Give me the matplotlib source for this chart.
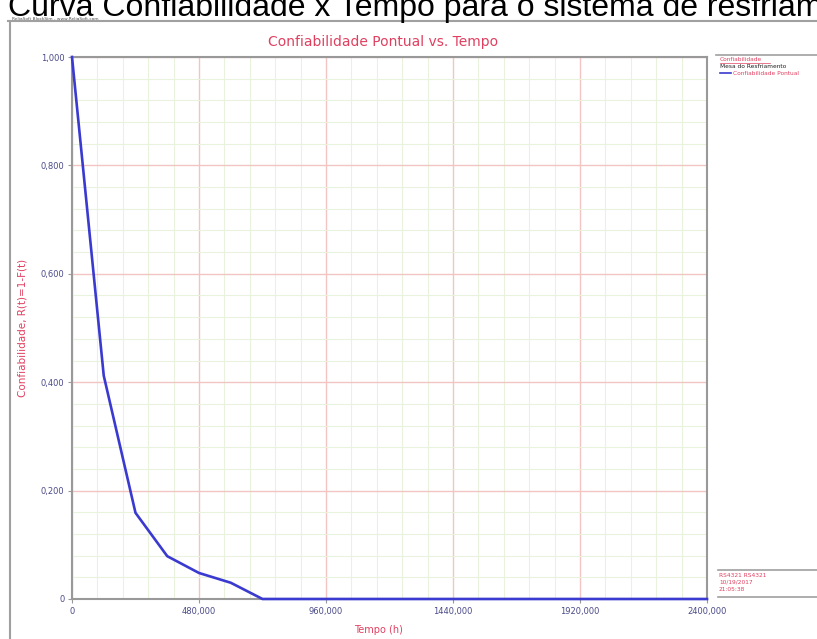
import matplotlib
matplotlib.use("Agg")
import matplotlib.pyplot as plt
from matplotlib.ticker import MultipleLocator
from matplotlib.lines import Line2D

# Data (time in hours, reliability)
tempo = [0, 120, 240, 360, 480, 600, 720, 2400]
confiabilidade = [1.0, 0.412, 0.159, 0.079, 0.048, 0.030, 0.0, 0.0]
x_ticks = [0, 480, 960, 1440, 1920, 2400]
x_labels = ["0", "480,000", "960,000", "1440,000", "1920,000", "2400,000"]
y_ticks = [0, 0.2, 0.4, 0.6, 0.8, 1.0]
y_labels = ["0", "0,200", "0,400", "0,600", "0,800", "1,000"]

W, H = 817, 639
fig = plt.figure(figsize=(W / 100, H / 100), dpi=100)
fig.patch.set_facecolor("white")

def fx(px):
    return px / W

def fy(py):
    return 1 - py / H

# Caption (clipped at top and right, as in the reference)
fig.text(fx(8), fy(16), "Curva Confiabilidade x Tempo para o sistema de resfriamento",
         fontsize=23, family="Liberation Sans", color="black", va="baseline", ha="left")

# Window bar
fig.add_artist(Line2D([fx(8), 1], [fy(21), fy(21)], color="#a0a0a0", lw=1.5))
fig.text(fx(12), fy(20), "ReliaSoft BlockSim - www.ReliaSoft.com", fontsize=3.2,
         color="#505050", va="baseline")
fig.add_artist(Line2D([fx(10), fx(10)], [fy(21), 0], color="#a0a0a0", lw=1.5))

ax = fig.add_axes([fx(72), fy(599), fx(707) - fx(72), fy(57) - fy(599)])
ax.plot(tempo, confiabilidade, color="#3a3ad0", lw=1.9, solid_joinstyle="round", zorder=5,
        clip_on=False)
ax.set_xlim(0, 2400)
ax.set_ylim(0, 1.0)
ax.set_xticks(x_ticks)
ax.set_xticklabels(x_labels)
ax.set_yticks(y_ticks)
ax.set_yticklabels(y_labels)
ax.xaxis.set_minor_locator(MultipleLocator(96))
ax.yaxis.set_minor_locator(MultipleLocator(0.04))
ax.grid(which="major", color="#f2c4c4", lw=1)
ax.grid(which="minor", color="#e9f2dc", lw=0.8)
ax.set_axisbelow(True)
for s in ax.spines.values():
    s.set_color("#999999")
    s.set_linewidth(1.5)
ax.tick_params(which="major", length=3, color="#999999", labelsize=6,
               labelcolor="#4a4a8a", pad=2.5)
ax.tick_params(which="minor", length=0)

fig.text(fx(383), fy(42), "Confiabilidade Pontual vs. Tempo", color="#e04060",
         fontsize=10, ha="center", va="center")
fig.text(fx(378), fy(630), "Tempo (h)", color="#e04060", fontsize=7,
         ha="center", va="center")
fig.text(fx(23), fy(328), "Confiabilidade, R(t)=1-F(t)", color="#e04060", fontsize=7.5,
         ha="center", va="center", rotation=90)

# Right legend panel
fig.add_artist(Line2D([fx(716), 1], [fy(55), fy(55)], color="#a0a0a0", lw=1.2))
fig.text(fx(720), fy(61), "Confiabilidade", fontsize=4.2, color="#e04060", va="baseline")
fig.add_artist(Line2D([fx(720), fx(770)], [fy(62.5), fy(62.5)], color="#e04060", lw=0.5))
fig.text(fx(720), fy(68), "Mesa do Resfriamento", fontsize=4.2, color="#202020", va="baseline")
fig.add_artist(Line2D([fx(720), fx(731)], [fy(73), fy(73)], color="#3a3ad0", lw=1.2))
fig.text(fx(733), fy(75), "Confiabilidade Pontual", fontsize=4.2, color="#e04060", va="baseline")

# Bottom info panel
fig.add_artist(Line2D([fx(718), 1], [fy(570), fy(570)], color="#a0a0a0", lw=1.2))
fig.add_artist(Line2D([fx(718), 1], [fy(597), fy(597)], color="#a0a0a0", lw=1.2))
fig.text(fx(719), fy(577), "RS4321 RS4321", fontsize=4.2, color="#e04060", va="baseline")
fig.text(fx(719), fy(584), "10/19/2017", fontsize=4.2, color="#e04060", va="baseline")
fig.text(fx(719), fy(591), "21:05:38", fontsize=4.2, color="#e04060", va="baseline")

fig.savefig("out.png", dpi=100, facecolor="white")
